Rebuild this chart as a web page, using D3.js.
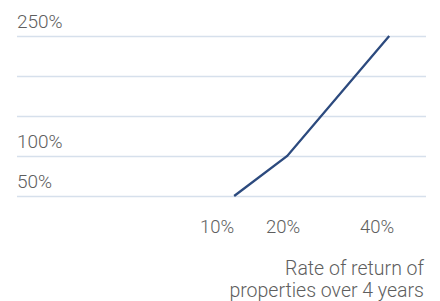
<!DOCTYPE html>
<html><head><meta charset="utf-8">
<script src="https://cdn.jsdelivr.net/npm/d3@7"></script>
<style>
html,body{margin:0;padding:0;background:#fff;}
text{font-family:Roboto,"DejaVu Sans",sans-serif;fill:#5e5e5e;}
</style></head>
<body>
<svg id="c" width="440" height="301"></svg>
<script>
const xTickValues = [10, 20, 40];
const xTickLabels = ["10%", "20%", "40%"];
const yGridValues = [50, 100, 150, 200, 250];
const yLabelValues = [50, 100, 250];
const yLabels = ["50%", "100%", "250%"];
const rateOfReturn = [12.6, 20.9, 42.6];
const growth = [50, 100, 250];
const titleLines = ["Rate of return of", "properties over 4 years"];

const svg = d3.select("#c");
const x = d3.scaleLinear().domain([10, 20, 40]).range([217, 283, 377]);
const y = d3.scaleLinear().domain([50, 250]).range([196, 36]);
const left = 17, right = 426;

svg.append("g").selectAll("line").data(yGridValues).join("line")
  .attr("x1", left).attr("x2", right)
  .attr("y1", d => y(d) + 0.5).attr("y2", d => y(d) + 0.5)
  .attr("stroke", "#d6e0ec").attr("stroke-width", 1.5);

svg.append("g").selectAll("text").data(yLabelValues).join("text")
  .attr("x", left).attr("y", d => y(d) - 8)
  .attr("font-size", 19).attr("font-weight", 300)
  .text((d, i) => yLabels[i]);

svg.append("g").selectAll("text").data(xTickValues).join("text")
  .attr("x", d => x(d)).attr("y", 233)
  .attr("text-anchor", "middle")
  .attr("font-size", 18.5).attr("font-weight", 300)
  .text((d, i) => xTickLabels[i]);

const line = d3.line().x((d, i) => x(rateOfReturn[i])).y(d => y(d));
svg.append("path").datum(growth)
  .attr("d", line).attr("fill", "none")
  .attr("stroke", "#2c4a7e").attr("stroke-width", 2.3);

svg.append("g").selectAll("text").data(titleLines).join("text")
  .attr("x", 424).attr("y", (d, i) => 275 + i * 22)
  .attr("text-anchor", "end").attr("font-size", 19.5).attr("font-weight", 300)
  .text(d => d);
</script>
</body></html>
